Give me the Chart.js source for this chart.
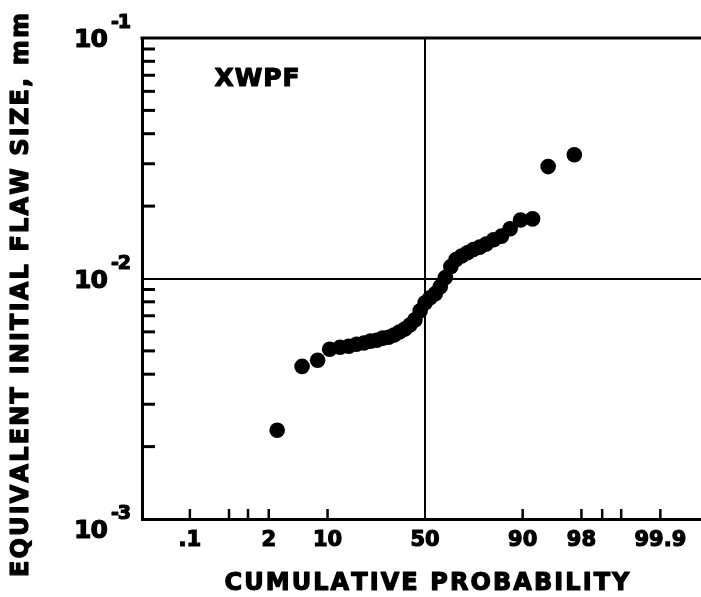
<!DOCTYPE html>
<html>
<head>
<meta charset="utf-8">
<script src="https://cdn.jsdelivr.net/npm/chart.js@4/dist/chart.umd.min.js"></script>
<style>
  html, body { margin: 0; padding: 0; background: #fff; overflow: hidden; }
  #wrap { width: 701px; height: 597px; overflow: hidden; }
  canvas { display: block; }
</style>
</head>
<body>
<div id="wrap"><canvas id="c" width="716" height="597"></canvas></div>
<script>
// Cumulative probability (%) of each specimen, in rank order
const probabilities = [2.6, 5.3, 7.9, 10.5, 13.2, 15.8, 18.4, 21.1, 23.7, 26.3,
  28.9, 31.6, 34.2, 36.8, 39.5, 42.1, 44.7, 47.4, 50.0, 52.6,
  55.3, 57.9, 60.5, 63.2, 65.8, 68.4, 71.1, 73.7, 76.3, 78.9,
  81.6, 84.2, 86.8, 89.5, 92.1, 94.7, 97.5];

// Equivalent initial flaw size (mm)
const flawSizes = [0.00234, 0.00431, 0.00457, 0.00508, 0.00518, 0.00523, 0.00533, 0.00539, 0.00549, 0.00554,
  0.00565, 0.00570, 0.00582, 0.00599, 0.00616, 0.00641, 0.00673, 0.00734, 0.00793, 0.00832,
  0.00865, 0.00925, 0.0101, 0.0112, 0.0120, 0.0124, 0.0128, 0.0132, 0.0135, 0.0139,
  0.0145, 0.0150, 0.0161, 0.0175, 0.0177, 0.0292, 0.0327];

// Probability-paper ticks and their labels
const probTicks = [0.1, 0.5, 1, 2, 10, 50, 90, 98, 99, 99.5, 99.9];
const probTickLabels = ['.1', '', '', '2', '10', '50', '90', '98', '', '', '99.9'];
const probRange = [0.01, 99.99];

// Log axis decades and minor ticks
const sizeDecades = [0.001, 0.01, 0.1];
const sizeExponents = ['-3', '-2', '-1'];
const sizeMinor = [0.002, 0.003, 0.004, 0.005, 0.006, 0.007, 0.008, 0.009,
  0.02, 0.03, 0.04, 0.05, 0.06, 0.07, 0.08, 0.09];

const seriesLabel = 'XWPF';
const xTitle = 'CUMULATIVE PROBABILITY';
const yTitle = 'EQUIVALENT INITIAL FLAW SIZE, mm';

// Inverse standard normal CDF (Acklam) — maps probability to normal-paper position
function probit(p) {
  const a = [-3.969683028665376e+01, 2.209460984245205e+02, -2.759285104469687e+02,
    1.383577518672690e+02, -3.066479806614716e+01, 2.506628277459239e+00];
  const b = [-5.447609879822406e+01, 1.615858368580409e+02, -1.556989798598866e+02,
    6.680131188771972e+01, -1.328068155288572e+01];
  const c = [-7.784894002430293e-03, -3.223964580411365e-01, -2.400758277161838e+00,
    -2.549732539343734e+00, 4.374664141464968e+00, 2.938163982698783e+00];
  const d = [7.784695709041462e-03, 3.224671290700398e-01, 2.445134137142996e+00,
    3.754408661907416e+00];
  const pl = 0.02425;
  if (p === 0.5) return 0;
  if (p < pl) {
    const q = Math.sqrt(-2 * Math.log(p));
    return (((((c[0]*q+c[1])*q+c[2])*q+c[3])*q+c[4])*q+c[5]) / ((((d[0]*q+d[1])*q+d[2])*q+d[3])*q+1);
  }
  if (p > 1 - pl) {
    const q = Math.sqrt(-2 * Math.log(1 - p));
    return -(((((c[0]*q+c[1])*q+c[2])*q+c[3])*q+c[4])*q+c[5]) / ((((d[0]*q+d[1])*q+d[2])*q+d[3])*q+1);
  }
  const q = p - 0.5, r = q * q;
  return (((((a[0]*r+a[1])*r+a[2])*r+a[3])*r+a[4])*r+a[5])*q / (((((b[0]*r+b[1])*r+b[2])*r+b[3])*r+b[4])*r+1);
}

const points = probabilities.map((p, i) => ({ x: probit(p / 100), y: flawSizes[i] }));

const FONT = '"DejaVu Sans", "Liberation Sans", Arial, sans-serif';

// Heavy text: fill plus a thin outline of the same colour
function heavyText(ctx, text, x, y) {
  ctx.fillText(text, x, y);
  ctx.strokeText(text, x, y);
}

// Draw a string letter by letter, spread to a given width, centred at (cx, cy)
function spacedText(ctx, text, cx, cy, width) {
  const chars = [...text];
  const widths = chars.map(ch => ctx.measureText(ch).width);
  const total = widths.reduce((s, w) => s + w, 0);
  const gap = chars.length > 1 ? (width - total) / (chars.length - 1) : 0;
  let x = cx - width / 2;
  ctx.textAlign = 'left';
  ctx.textBaseline = 'middle';
  chars.forEach((ch, i) => { heavyText(ctx, ch, x, cy); x += widths[i] + gap; });
}

const paperPlugin = {
  id: 'paper',
  afterDraw(chart) {
    const ctx = chart.ctx;
    const area = chart.chartArea;
    const xs = chart.scales.x, ys = chart.scales.y;
    ctx.save();
    ctx.strokeStyle = '#000';
    ctx.fillStyle = '#000';
    ctx.lineJoin = 'round';

    // top frame line
    ctx.lineWidth = 3;
    ctx.beginPath();
    ctx.moveTo(area.left - 1.5, area.top);
    ctx.lineTo(area.right, area.top);
    ctx.stroke();

    // inward minor ticks on the size axis
    ctx.lineWidth = 3;
    sizeMinor.forEach(v => {
      const y = ys.getPixelForValue(v);
      ctx.beginPath();
      ctx.moveTo(area.left, y);
      ctx.lineTo(area.left + 13, y);
      ctx.stroke();
    });

    // inward ticks on the probability axis
    ctx.lineWidth = 2.5;
    probTicks.forEach(p => {
      if (p === 50) return;
      const x = xs.getPixelForValue(probit(p / 100));
      ctx.beginPath();
      ctx.moveTo(x, area.bottom);
      ctx.lineTo(x, area.bottom - 10);
      ctx.stroke();
    });

    // decade labels with exponents
    ctx.lineWidth = 1.2;
    const shift = [12, 3, 2];
    sizeDecades.forEach((v, i) => {
      const y = ys.getPixelForValue(v);
      ctx.font = 'bold 25px ' + FONT;
      spacedText(ctx, '10', 91, y + shift[i], 34);
      ctx.font = 'bold 19px ' + FONT;
      spacedText(ctx, sizeExponents[i], 121, y + shift[i] - 17, 20);
    });

    // series tag
    ctx.lineWidth = 1.2;
    ctx.font = 'bold 25px ' + FONT;
    spacedText(ctx, seriesLabel, 257, 79, 85);

    // axis titles
    ctx.font = 'bold 24px ' + FONT;
    spacedText(ctx, xTitle, 427, 584, 405);
    ctx.translate(22, 295);
    ctx.rotate(-Math.PI / 2);
    spacedText(ctx, yTitle, 0, 0, 564);
    ctx.restore();
  }
};

new Chart(document.getElementById('c'), {
  type: 'scatter',
  data: {
    datasets: [{
      label: seriesLabel,
      data: points,
      backgroundColor: '#000',
      borderColor: '#000',
      borderWidth: 0,
      pointRadius: 7.8,
      pointHoverRadius: 7.8
    }]
  },
  options: {
    responsive: false,
    animation: false,
    events: [],
    layout: { padding: { top: 38, right: 0, left: 0, bottom: 0 } },
    plugins: { legend: { display: false }, tooltip: { enabled: false } },
    scales: {
      x: {
        type: 'linear',
        min: probit(probRange[0] / 100),
        max: probit(probRange[1] / 100),
        afterBuildTicks: s => { s.ticks = probTicks.map(p => ({ value: probit(p / 100) })); },
        afterFit: s => { s.height = 78; },
        ticks: {
          autoSkip: false,
          maxRotation: 0,
          padding: 9,
          color: '#000',
          textStrokeColor: '#000',
          textStrokeWidth: 1.2,
          font: { family: FONT, size: 21, weight: 'bold' },
          callback: (v, i) => probTickLabels[i]
        },
        grid: {
          drawTicks: false,
          lineWidth: 2,
          color: c => (c.tick && Math.abs(c.tick.value) < 1e-9) ? '#000' : 'rgba(0,0,0,0)'
        },
        border: { display: true, color: '#000', width: 3 }
      },
      y: {
        type: 'logarithmic',
        min: sizeDecades[0],
        max: sizeDecades[2],
        afterBuildTicks: s => { s.ticks = sizeDecades.map(v => ({ value: v })); },
        afterFit: s => { s.width = 142; },
        ticks: { display: false },
        grid: {
          drawTicks: false,
          lineWidth: 2,
          color: c => (c.tick && Math.abs(c.tick.value - 0.01) < 1e-9) ? '#000' : 'rgba(0,0,0,0)'
        },
        border: { display: true, color: '#000', width: 3 }
      }
    }
  },
  plugins: [paperPlugin]
});
</script>
</body>
</html>
